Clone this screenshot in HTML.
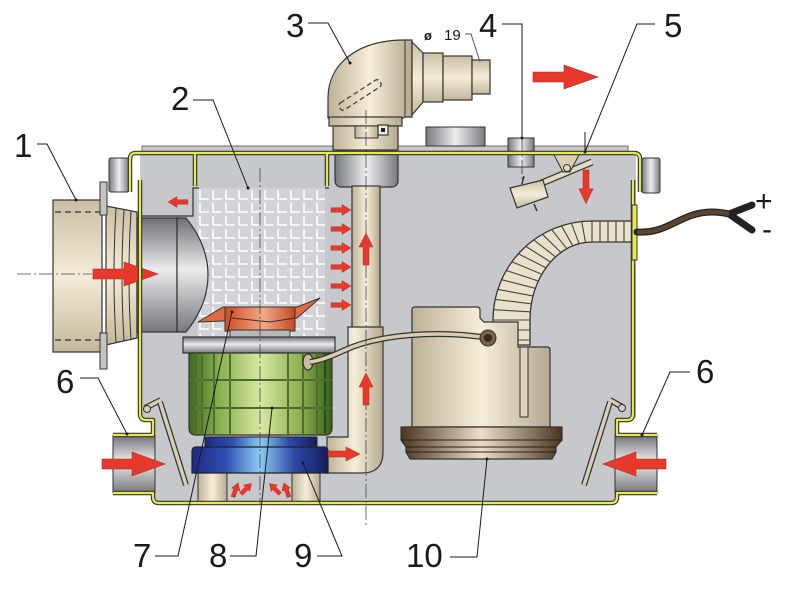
<!DOCTYPE html>
<html><head><meta charset="utf-8"><style>
html,body{margin:0;padding:0;background:#fff;}
svg{display:block;}
text{font-family:"Liberation Sans",Arial,sans-serif;fill:#1a1a1a;}
</style></head><body>
<svg width="806" height="606" viewBox="0 0 806 606" xmlns="http://www.w3.org/2000/svg">
<defs>
<linearGradient id="bH" x1="0" y1="0" x2="1" y2="0"><stop offset="0" stop-color="#bdb296"/><stop offset=".5" stop-color="#f6eed9"/><stop offset="1" stop-color="#b5aa8e"/></linearGradient>
<linearGradient id="bV" x1="0" y1="0" x2="0" y2="1"><stop offset="0" stop-color="#c9bfa4"/><stop offset=".5" stop-color="#f4ecd7"/><stop offset="1" stop-color="#c2b89c"/></linearGradient>
<linearGradient id="gV" x1="0" y1="0" x2="0" y2="1"><stop offset="0" stop-color="#6f7074"/><stop offset=".45" stop-color="#ececee"/><stop offset="1" stop-color="#77787c"/></linearGradient>
<linearGradient id="gH" x1="0" y1="0" x2="1" y2="0"><stop offset="0" stop-color="#77787c"/><stop offset=".5" stop-color="#eeeef0"/><stop offset="1" stop-color="#7a7b7f"/></linearGradient>
<linearGradient id="grn" x1="0" y1="0" x2="1" y2="0"><stop offset="0" stop-color="#3f6a22"/><stop offset=".2" stop-color="#86ad4c"/><stop offset=".5" stop-color="#d8e8a2"/><stop offset=".8" stop-color="#84ab4a"/><stop offset="1" stop-color="#355e1c"/></linearGradient>
<linearGradient id="blu" x1="0" y1="0" x2="1" y2="0"><stop offset="0" stop-color="#1c2a84"/><stop offset=".25" stop-color="#2f4fb2"/><stop offset=".5" stop-color="#8ccbf2"/><stop offset=".75" stop-color="#2e4aa8"/><stop offset="1" stop-color="#141c5c"/></linearGradient>
<linearGradient id="org" x1="0" y1="0" x2="1" y2="0"><stop offset="0" stop-color="#cf4c22"/><stop offset=".55" stop-color="#f3a888"/><stop offset="1" stop-color="#c44a20"/></linearGradient>
<linearGradient id="brn" x1="0" y1="0" x2="1" y2="0"><stop offset="0" stop-color="#4a3520"/><stop offset=".5" stop-color="#ecdfca"/><stop offset="1" stop-color="#4a3520"/></linearGradient>
<pattern id="mesh" x="197" y="188" width="13" height="13" patternUnits="userSpaceOnUse">
<rect width="13" height="13" fill="#d2d3d6"/>
<path d="M3 2 V11 H12" fill="none" stroke="#fff" stroke-width="1.6"/>
</pattern>
<polygon id="ba" points="0,-5 31,-5 31,-12 65,0 31,12 31,5 0,5" fill="#e8382b" stroke="#a8281c" stroke-width=".6"/>
<polygon id="ma" points="0,-3 18,-3 18,-7 32,0 18,7 18,3 0,3" fill="#e8382b" stroke="#a8281c" stroke-width=".5"/>
<polygon id="sa" points="0,-2.3 11,-2.3 11,-5.5 20,0 11,5.5 11,2.3 0,2.3" fill="#e8382b" stroke="#a8281c" stroke-width=".4"/>
<polygon id="ta" points="0,-2 8,-2 8,-4.5 15,0 8,4.5 8,2 0,2" fill="#e8382b" stroke="#a8281c" stroke-width=".4"/>
</defs>

<!-- housing -->
<rect x="142" y="146" width="486" height="7" fill="#c8c9cc" stroke="#555" stroke-width=".8"/>
<path d="M140 153 H636 V415 Q636 420 630 420 H617 V503 H153 V420 H145 Q140 420 140 415 Z" fill="#c6c8cb"/>
<rect x="113" y="435" width="42" height="58" fill="url(#gV)" stroke="#333" stroke-width="1"/>
<rect x="615" y="435" width="42" height="58" fill="url(#gV)" stroke="#333" stroke-width="1"/>

<!-- mesh filter -->
<rect x="197" y="188" width="128" height="152" fill="url(#mesh)"/>
<path d="M140 216 H193 V188 H199 M325 188 H329" fill="none" stroke="#333" stroke-width="1.2"/>

<!-- top small cylinders -->
<rect x="109" y="158" width="20" height="34" rx="2" fill="url(#gH)" stroke="#333" stroke-width="1"/>
<rect x="642" y="158" width="18" height="35" rx="2" fill="url(#gH)" stroke="#333" stroke-width="1"/>
<rect x="426" y="127" width="59" height="19" fill="url(#gH)" stroke="#333" stroke-width="1"/>

<!-- inlet 1 -->
<rect x="53" y="200" width="49" height="152" fill="url(#bV)" stroke="#333" stroke-width="1.2"/>
<path d="M55 212 H100 M55 340 H100" stroke="#333" stroke-width="1.2" stroke-dasharray="6 4"/>
<path d="M106 206 L137 212 V338 L106 345 Z" fill="url(#bV)" stroke="#333" stroke-width="1.2"/>
<path d="M116 208 Q112 275 116 343 M124 210 Q120 275 124 341 M131 211 Q127 275 131 340" fill="none" stroke="#333" stroke-width="1"/>
<rect x="100" y="182" width="7" height="33" fill="#c4c4c6" stroke="#333" stroke-width="1"/>
<rect x="100" y="333" width="7" height="36" fill="#c4c4c6" stroke="#333" stroke-width="1"/>
<rect x="137" y="218" width="40" height="114" fill="url(#gV)" stroke="#333" stroke-width="1.2"/>
<path d="M177 218 H186 Q208 245 208 275 Q208 305 186 332 H177 Z" fill="url(#gV)" stroke="#333" stroke-width="1.2"/>
<line x1="17" y1="274" x2="92" y2="274" stroke="#444" stroke-width=".8" stroke-dasharray="14 3 2 3"/>
<use href="#ba" transform="translate(93,274)"/>

<!-- hose -->
<path d="M633 221 H592 A99 99 0 0 0 493 320 V345 H530 V320 A62 78 0 0 1 592 242 H633 Z" fill="#e9e1cb" stroke="#333" stroke-width="1.3"/>
<path d="M493 320 L530 320 M493.5 309.7 L530.3 311.8 M495.2 299.4 L531.4 303.8 M497.8 289.4 L533 295.9 M501.6 279.7 L535.4 288.3 M506.3 270.5 L538.3 281 M511.9 261.8 L541.8 274.2 M518.4 253.8 L545.9 267.8 M525.8 246.4 L550.5 262 M533.8 239.9 L555.6 256.9 M542.5 234.3 L561 252.5 M551.7 229.6 L566.8 248.7 M561.4 225.8 L572.8 245.8 M571.4 223.2 L579.1 243.7 M581.7 221.5 L585.5 242.4 M592 221 L592 242 M600 221 V242 M608 221 V242 M616 221 V242 M624 221 V242 M493 330 H530 M493 340 H530" stroke="#444" stroke-width="1.1"/>

<!-- pump 10 -->
<path d="M412 427 V310 Q412 307 415 307 H477 Q480 307 480 310 V318 L484 322 H518 V347 H547 Q550 347 550 350 V427 Z" fill="url(#bH)" stroke="#333" stroke-width="1.2"/>
<rect x="520" y="347" width="8" height="70" fill="#ddd3bc" stroke="#333" stroke-width="1"/>
<path d="M401 427 H562 V440 L556 447 V452 L552 459 H410 L406 452 V447 L401 440 Z" fill="url(#brn)" stroke="#333" stroke-width="1.2"/>
<path d="M401 440 H562 M406 447 H556 M406 452 H556" stroke="#2a2018" stroke-width="1"/>

<!-- vertical pipe -->
<rect x="335" y="150" width="63" height="37" rx="6" fill="url(#gH)" stroke="#333" stroke-width="1.2"/>
<rect x="352" y="186" width="28" height="142" fill="url(#bH)" stroke="#333" stroke-width="1.2"/>
<path d="M348 327 H383 V452 Q383 473 362 473 H327 V437 H348 Z" fill="url(#bH)" stroke="#333" stroke-width="1.2"/>

<!-- filter assembly -->
<path d="M198 322 L223 307 H297 L320 298 L297 318 Z" fill="#e06a3e" stroke="#333" stroke-width="1"/>
<rect x="225" y="307" width="70" height="24" fill="url(#org)" stroke="#333" stroke-width="1"/>
<path d="M232 318 L270 322 L295 318" fill="none" stroke="#333" stroke-width="1"/>
<rect x="230" y="330" width="60" height="7" fill="#b8b8bb" stroke="#333" stroke-width="1"/>
<rect x="183" y="337" width="152" height="16" fill="url(#gV)" stroke="#333" stroke-width="1.2"/>
<path d="M189 353 H332 V428 Q332 435 325 435 H196 Q189 435 189 428 Z" fill="url(#grn)" stroke="#333" stroke-width="1.2"/>
<path d="M196 353 V435 M202 353 V435 M214 353 V435 M230 353 V435 M288 353 V435 M303 353 V435 M317 353 V435 M325 353 V433 M189 380 H332 M189 408 H332" stroke="#2e4a18" stroke-width="2"/>
<path d="M196 353 V435 M202 353 V435 M214 353 V435 M230 353 V435 M288 353 V435 M303 353 V435 M317 353 V435 M189 380 H332 M189 408 H332" stroke="#a8c870" stroke-width=".8" opacity=".7"/>
<rect x="198" y="473" width="29" height="30" fill="url(#bH)" stroke="#333" stroke-width="1"/>
<rect x="292" y="473" width="28" height="30" fill="url(#bH)" stroke="#333" stroke-width="1"/>
<path d="M205 437 H317 V447 H205 Z" fill="url(#blu)" stroke="#222" stroke-width="1"/>
<path d="M196 447 H324 Q328 447 328 452 V473 H192 V452 Q192 447 196 447 Z" fill="url(#blu)" stroke="#222" stroke-width="1.2"/>
<ellipse cx="308" cy="362" rx="5" ry="8" fill="#cbbba0" stroke="#333" stroke-width="1.2"/>

<!-- cable between -->
<path d="M488 338 C440 330 380 334 345 350 C330 357 318 361 310 362" fill="none" stroke="#333" stroke-width="6"/>
<path d="M488 338 C440 330 380 334 345 350 C330 357 318 361 310 362" fill="none" stroke="#d8ccb2" stroke-width="3.5"/>
<circle cx="488" cy="338" r="8" fill="#7a6244" stroke="#333" stroke-width="1"/>
<circle cx="488" cy="338" r="4" fill="#3a2a18"/>

<!-- item 4 -->
<rect x="508" y="138" width="26" height="29" fill="url(#gH)" stroke="#333" stroke-width="1"/>
<!-- float switch 5 -->
<line x1="525" y1="190" x2="592" y2="162" stroke="#333" stroke-width="7"/>
<line x1="525" y1="190" x2="592" y2="162" stroke="#e4dbc4" stroke-width="4.5"/>
<polygon points="553,153 580,153 570,172 563,172" fill="#d9cfb6" stroke="#333" stroke-width="1"/>
<circle cx="567" cy="168" r="3.5" fill="#e4dbc4" stroke="#333" stroke-width="1"/>
<polygon points="510,188 543,180 548,197 517,208" fill="url(#bV)" stroke="#333" stroke-width="1.2"/>
<path d="M522 184 L524 176 M534 204 L537 211" stroke="#333" stroke-width="1.5"/>

<!-- flaps -->
<line x1="145" y1="408" x2="161" y2="400" stroke="#333" stroke-width="6"/>
<line x1="145" y1="408" x2="161" y2="400" stroke="#d8cfb8" stroke-width="3.5"/>
<line x1="160" y1="402" x2="186" y2="485" stroke="#333" stroke-width="6"/>
<line x1="160" y1="402" x2="186" y2="485" stroke="#d8cfb8" stroke-width="3.5"/>
<circle cx="147" cy="409" r="3.5" fill="#d8cfb8" stroke="#333" stroke-width="1"/>
<line x1="624" y1="408" x2="610" y2="400" stroke="#333" stroke-width="6"/>
<line x1="624" y1="408" x2="610" y2="400" stroke="#d8cfb8" stroke-width="3.5"/>
<line x1="610" y1="402" x2="584" y2="485" stroke="#333" stroke-width="6"/>
<line x1="610" y1="402" x2="584" y2="485" stroke="#d8cfb8" stroke-width="3.5"/>
<circle cx="622" cy="408" r="3.5" fill="#d8cfb8" stroke="#333" stroke-width="1"/>

<!-- yellow walls -->
<g fill="none" stroke-linejoin="round">
<path d="M130 192 V159 Q130 153 136 153 H634 Q640 153 640 159 V192 M633 180 V414 Q633 420 627 420 H617 V435 H657 M657 493 H617 V497 Q617 503 611 503 H159 Q153 503 153 497 V493 H113 M113 435 H153 V420 H146 Q140 420 140 414 V180 M195 153 V186 M327 153 V186" stroke="#333" stroke-width="4.5"/>
<path d="M130 192 V159 Q130 153 136 153 H634 Q640 153 640 159 V192 M633 180 V414 Q633 420 627 420 H617 V435 H657 M657 493 H617 V497 Q617 503 611 503 H159 Q153 503 153 497 V493 H113 M113 435 H153 V420 H146 Q140 420 140 414 V180 M195 153 V186 M327 153 V186" stroke="#e6e84e" stroke-width="2.2"/>
</g>
<rect x="632" y="205" width="5" height="55" fill="#e6e84e" stroke="#333" stroke-width="1"/>

<!-- elbow 3 -->
<path d="M328 118 V98 C328 62 360 40 405 40 H412 V117 H405 L400 120 H333 Z" fill="url(#bH)" stroke="#333" stroke-width="1.2"/>
<line x1="405" y1="40" x2="405" y2="117" stroke="#333" stroke-width="1"/>
<path d="M412 42 L423 53 V102 L412 115 Z" fill="url(#bV)" stroke="#333" stroke-width="1.2"/>
<rect x="423" y="53" width="20" height="49" fill="url(#bV)" stroke="#333" stroke-width="1.2"/>
<rect x="443" y="56" width="29" height="44" fill="url(#bV)" stroke="#333" stroke-width="1.2"/>
<rect x="472" y="60" width="18" height="34" fill="url(#bV)" stroke="#333" stroke-width="1.2"/>
<rect x="329" y="117" width="73" height="9" fill="url(#bH)" stroke="#333" stroke-width="1.2"/>
<rect x="333" y="126" width="65" height="24" fill="url(#bH)" stroke="#333" stroke-width="1.2"/>
<rect x="355" y="126" width="23" height="12" fill="url(#bH)" stroke="#333" stroke-width="1"/>
<rect x="378" y="125" width="10" height="10" fill="#eee" stroke="#333" stroke-width="1.2"/>
<rect x="381" y="128" width="4" height="4" fill="#222"/>
<g transform="translate(360,95) rotate(-33)"><rect x="-24" y="-4" width="48" height="8" rx="3" fill="none" stroke="#444" stroke-width="1.3" stroke-dasharray="5 3"/></g>

<!-- center lines -->
<g stroke="#444" stroke-width=".8" stroke-dasharray="14 3 2 3">
<line x1="260" y1="168" x2="260" y2="505"/>
<line x1="366" y1="110" x2="366" y2="527"/>
<line x1="522" y1="138" x2="522" y2="180"/>
</g>

<!-- arrows -->
<use href="#ba" transform="translate(533,77)"/>
<use href="#ba" transform="translate(102,464) scale(.97,1)"/>
<use href="#ba" transform="translate(666,464) scale(-.97,1)"/>
<use href="#sa" transform="translate(188,202) rotate(180)"/>
<use href="#sa" transform="translate(331,210)"/>
<use href="#sa" transform="translate(331,229)"/>
<use href="#sa" transform="translate(331,248)"/>
<use href="#sa" transform="translate(331,267)"/>
<use href="#sa" transform="translate(331,286)"/>
<use href="#sa" transform="translate(331,305)"/>
<use href="#ma" transform="translate(366,265) rotate(-90)"/>
<use href="#ma" transform="translate(366,405) rotate(-90)"/>
<use href="#ma" transform="translate(328,454)"/>
<use href="#ma" transform="translate(586,170) rotate(90) scale(1.05,1)"/>
<use href="#ta" transform="translate(233,497) rotate(-70)"/>
<use href="#ta" transform="translate(241,494) rotate(-45)"/>
<use href="#ta" transform="translate(280,494) rotate(-135)"/>
<use href="#ta" transform="translate(289,497) rotate(-110)"/>

<!-- right cable -->
<path d="M637 232 C670 234 680 212 712 212 C720 212 724 213 729 214 M729 214 L752 205 M729 214 L752 230" fill="none" stroke="#222" stroke-width="7" stroke-linecap="round"/>
<path d="M637 232 C670 234 680 212 712 212 C720 212 724 213 729 214" fill="none" stroke="#5a4630" stroke-width="4.5"/>
<text x="755" y="211" font-size="30">+</text>
<text x="762" y="239" font-size="30">-</text>

<!-- leaders -->
<g fill="none" stroke="#1a1a1a" stroke-width="1">
<polyline points="37,144 47,144 76,200"/>
<polyline points="193,100 213,100 248,188"/>
<polyline points="308,23 328,23 350,63"/>
<polyline points="502,24 522,24 522,138"/>
<polyline points="655,24 637,24 585,152"/>
<line x1="585" y1="132" x2="585" y2="153"/>
<polyline points="465,34 471,34 480,62" stroke="#555"/>
<polyline points="80,378 98,378 127,434"/>
<polyline points="690,372 670,372 642,435"/>
<polyline points="155,556 178,556 232,312"/>
<polyline points="230,556 256,556 272,408"/>
<polyline points="317,556 342,556 303,463"/>
<polyline points="450,557 477,557 487,459"/>
</g>
<g fill="#1a1a1a">
<circle cx="76" cy="200" r="1.5"/><circle cx="248" cy="188" r="1.5"/><circle cx="350" cy="63" r="1.5"/>
<circle cx="522" cy="138" r="1.5"/><circle cx="585" cy="152" r="1.5"/><circle cx="127" cy="434" r="1.5"/>
<circle cx="642" cy="435" r="1.5"/><circle cx="232" cy="312" r="1.5"/><circle cx="272" cy="408" r="1.5"/>
<circle cx="303" cy="463" r="1.5"/><circle cx="487" cy="459" r="1.5"/>
</g>

<!-- labels -->
<g font-size="33">
<text x="14" y="157">1</text>
<text x="171" y="110">2</text>
<text x="286" y="37">3</text>
<text x="479" y="37">4</text>
<text x="664" y="37">5</text>
<text x="56" y="393">6</text>
<text x="696" y="383">6</text>
<text x="133" y="567">7</text>
<text x="209" y="567">8</text>
<text x="294" y="567">9</text>
<text x="406" y="567">10</text>
</g>
<text x="424" y="40" font-size="13" font-weight="bold">ø</text>
<text x="444" y="40" font-size="15">19</text>
</svg>
</body></html>
